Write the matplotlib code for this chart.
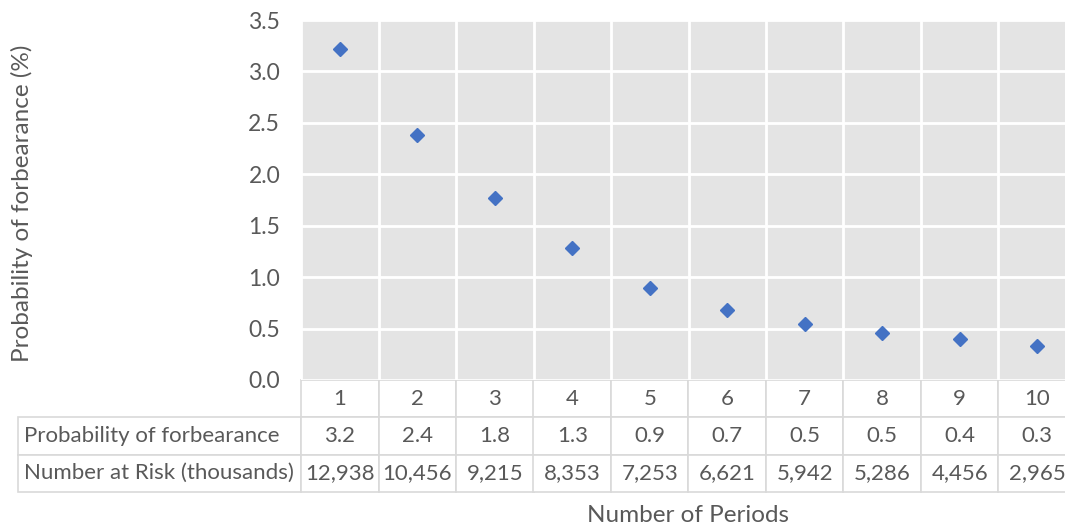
import numpy as np
import matplotlib.pyplot as plt

# data
periods = [1, 2, 3, 4, 5, 6, 7, 8, 9, 10]
prob_forbearance = [3.22, 2.38, 1.77, 1.28, 0.89, 0.68, 0.54, 0.46, 0.40, 0.33]
prob_labels = ['3.2', '2.4', '1.8', '1.3', '0.9', '0.7', '0.5', '0.5', '0.4', '0.3']
at_risk_labels = ['12,938', '10,456', '9,215', '8,353', '7,253',
                  '6,621', '5,942', '5,286', '4,456', '2,965']
row_labels = ['Probability of forbearance', 'Number at Risk (thousands)']
y_ticks = [0.0, 0.5, 1.0, 1.5, 2.0, 2.5, 3.0, 3.5]

txt = '#595959'
plt.rcParams['font.family'] = ['Lato', 'DejaVu Sans']
plt.rcParams['font.size'] = 16

fig = plt.figure(figsize=(10.65, 5.28), dpi=100)
W, H = 1065, 528
# plot area in pixels: x 301-1076, y 20-380
ax = fig.add_axes([301 / W, 1 - 380 / H, 775 / W, 360 / H])
ax.set_facecolor('#E4E4E4')

ax.plot(periods, prob_forbearance, linestyle='none', marker='D',
        markersize=7.5, color='#4472C4', zorder=3)

ax.set_xlim(0.5, 10.5)
ax.set_ylim(0, 3.5)
ax.set_yticks(y_ticks)
ax.set_yticklabels(['%.1f' % v for v in y_ticks], color=txt, fontsize=16.5)
ax.set_xticks([])
ax.set_xticks(np.arange(0.5, 11, 1), minor=True)
ax.tick_params(axis='y', length=0, pad=15)
ax.tick_params(axis='x', which='both', length=0, labelbottom=False)
ax.grid(True, which='major', axis='y', color='white', linewidth=2)
ax.grid(True, which='minor', axis='x', color='white', linewidth=2)
ax.set_axisbelow(True)
for s in ax.spines.values():
    s.set_visible(False)

# data table under the plot
cell_text = [[''] + [str(p) for p in periods],
             [row_labels[0]] + prob_labels,
             [row_labels[1]] + at_risk_labels]
label_w = 283
col_w = 77.5
widths = [label_w] + [col_w] * 10
tbl = ax.table(cellText=cell_text, colWidths=widths, cellLoc='center',
               bbox=[(18 - 301) / 775, -112 / 360, 1058 / 775, 112 / 360])
tbl.auto_set_font_size(False)
tbl.set_fontsize(16)
for (r, c), cell in tbl.get_celld().items():
    cell.set_edgecolor('#D9D9D9')
    cell.set_linewidth(1.2)
    cell.get_text().set_color(txt)
    if c == 0:
        cell.get_text().set_horizontalalignment('left')
        cell._loc = 'left'
        cell.PAD = 0.02
    if r == 0 and c == 0:
        cell.visible_edges = ''

fig.text(688 / W, 1 - 515 / H, 'Number of Periods', color=txt, fontsize=17.5,
         ha='center', va='center')
fig.text(22 / W, 1 - 203 / H, 'Probability of forbearance (%)', color=txt,
         fontsize=17.5, rotation=90, ha='center', va='center')

fig.savefig('out.png', dpi=100)
